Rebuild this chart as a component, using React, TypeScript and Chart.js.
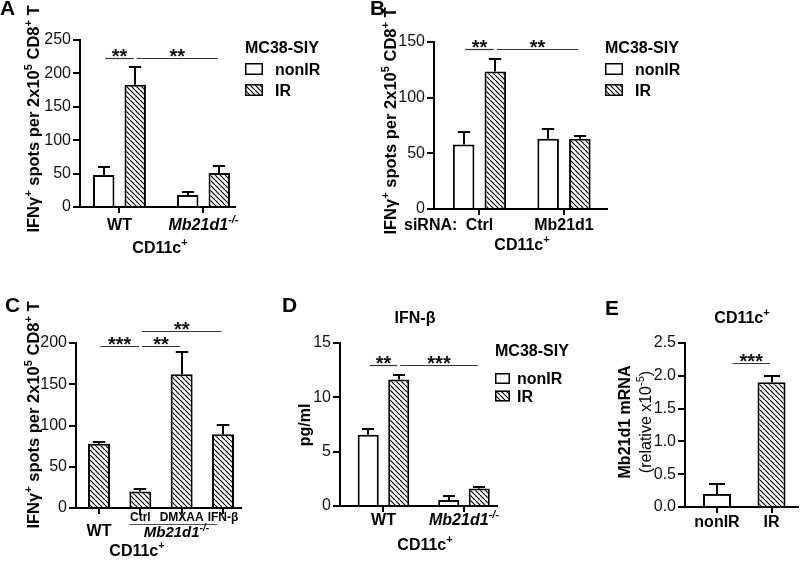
import React, { useEffect, useRef } from "react";
import { Chart, registerables } from "chart.js";

Chart.register(...registerables);

const FAMILY = '"Liberation Sans", Arial, Helvetica, sans-serif';

// ---------------- data ----------------
const seriesNames = ["nonIR", "IR"];
const legendTitle = "MC38-SIY";

const aCategories = ["WT", "Mb21d1^{-/-}"];
const aNonIR = [48, 18];
const aNonIRErr = [12, 4];
const aIR = [183, 51];
const aIRErr = [26, 10];
const aYMax = 250;
const aYStep = 50;

const bCategories = ["Ctrl", "Mb21d1"];
const bNonIR = [58, 63];
const bNonIRErr = [11, 8.5];
const bIR = [123.5, 63];
const bIRErr = [11.5, 2.5];
const bYMax = 150;
const bYStep = 50;

const cCategories = ["WT", "Ctrl", "DMXAA", "IFN-β"];
const cIR = [78, 20, 162, 89.5];
const cIRErr = [2, 3, 27.5, 11.5];
const cYMax = 200;
const cYStep = 50;

const dCategories = ["WT", "Mb21d1^{-/-}"];
const dNonIR = [6.55, 0.55];
const dNonIRErr = [0.55, 0.4];
const dIR = [11.65, 1.6];
const dIRErr = [0.4, 0.18];
const dYMax = 15;
const dYStep = 5;

const eCategories = ["nonIR", "IR"];
const eValues = [0.2, 1.9];
const eErr = [0.15, 0.1];
const eYMax = 2.5;
const eYStep = 0.5;

const yTitleSpots = "IFNγ^{+} spots per 2x10^{5} CD8^{+} T";
const xTitleCells = "CD11c^{+}";

// ---------------- helpers ----------------
type Seg = { t: string; sup: boolean; w?: number };
function parseRich(s: string): Seg[] {
  const segs: Seg[] = [];
  const re = /\^\{([^}]*)\}/g;
  let last = 0;
  let m: RegExpExecArray | null;
  while ((m = re.exec(s))) {
    if (m.index > last) segs.push({ t: s.slice(last, m.index), sup: false });
    segs.push({ t: m[1], sup: true });
    last = re.lastIndex;
  }
  if (last < s.length) segs.push({ t: s.slice(last), sup: false });
  return segs;
}

type TextOpt = {
  size: number;
  bold?: boolean;
  italic?: boolean;
  align?: "left" | "center" | "right";
  rotate?: boolean;
  color?: string;
};

function drawRich(ctx: CanvasRenderingContext2D, s: string, x: number, y: number, o: TextOpt) {
  const segs = parseRich(s);
  const fontFor = (sup: boolean) =>
    `${o.italic ? "italic " : ""}${o.bold ? "bold " : ""}${sup ? Math.round(o.size * 0.68) : o.size}px ${FAMILY}`;
  let w = 0;
  for (const seg of segs) {
    ctx.font = fontFor(seg.sup);
    seg.w = ctx.measureText(seg.t).width;
    w += seg.w;
  }
  ctx.save();
  ctx.translate(x, y);
  if (o.rotate) ctx.rotate(-Math.PI / 2);
  let cx = o.align === "center" ? -w / 2 : o.align === "right" ? -w : 0;
  ctx.textBaseline = "alphabetic";
  ctx.textAlign = "left";
  ctx.fillStyle = o.color || "#000";
  for (const seg of segs) {
    ctx.font = fontFor(seg.sup);
    ctx.fillText(seg.t, cx, seg.sup ? -o.size * 0.42 : 0);
    cx += seg.w || 0;
  }
  ctx.restore();
}

function makeHatch(): CanvasPattern | string {
  const s = 5;
  const c = document.createElement("canvas");
  c.width = s;
  c.height = s;
  const g = c.getContext("2d");
  if (!g) return "#888";
  g.fillStyle = "#fff";
  g.fillRect(0, 0, s, s);
  g.strokeStyle = "#000";
  g.lineWidth = 1.2;
  g.beginPath();
  for (const k of [-s, 0, s]) {
    g.moveTo(k, 0);
    g.lineTo(k + s, s);
  }
  g.stroke();
  return g.createPattern(c, "repeat") || "#888";
}

// ---------------- panel configs ----------------
type Series = { name: string; values: number[]; errors: number[]; fill: string[] };
type Sig = { a: [number, number]; b: [number, number]; aOff?: number; y: number; text: string };
type TextItem = { t: string; x: number; y: number } & TextOpt;
type PanelCfg = {
  key: string;
  box: [number, number, number, number];
  area: [number, number, number, number];
  categories: string[];
  xMin: number;
  xMax: number;
  yMax: number;
  yStep: number;
  yDecimals: number;
  catPct: number;
  barPct: number;
  series: Series[];
  sigs: Sig[];
  labels: { dy: number; size: number; italic: boolean }[];
  group?: { from: number; to: number; text: string; lineDy: number; textDy: number; size: number };
  texts: TextItem[];
  legend?: { x: number; y: number; boxTop: number; row: number; bw: number; bh: number; textDx: number };
};

const panels: PanelCfg[] = [
  {
    key: "A",
    box: [0, 0, 400, 290],
    area: [80, 40, 235, 207],
    categories: aCategories,
    xMin: -0.47,
    xMax: 1.375,
    yMax: aYMax,
    yStep: aYStep,
    yDecimals: 0,
    catPct: 0.75,
    barPct: 0.68,
    series: [
      { name: seriesNames[0], values: aNonIR, errors: aNonIRErr, fill: ["white", "white"] },
      { name: seriesNames[1], values: aIR, errors: aIRErr, fill: ["hatch", "hatch"] },
    ],
    sigs: [
      { a: [0, 0], b: [1, 0], y: 223, text: "**" },
      { a: [1, 0], b: [1, 1], y: 223, text: "**" },
    ],
    labels: [
      { dy: 23, size: 16, italic: false },
      { dy: 23, size: 16, italic: true },
    ],
    texts: [
      { t: "A", x: 0, y: 15, size: 21, bold: true },
      { t: yTitleSpots, x: 39, y: 119, size: 16.5, bold: true, align: "center", rotate: true },
      { t: xTitleCells, x: 160, y: 253, size: 16, bold: true, align: "center" },
    ],
    legend: { x: 245, y: 53, boxTop: 10, row: 21, bw: 18, bh: 12, textDx: 30 },
  },
  {
    key: "B",
    box: [350, 0, 450, 290],
    area: [434, 42, 607, 209],
    categories: bCategories,
    xMin: -0.538,
    xMax: 1.509,
    yMax: bYMax,
    yStep: bYStep,
    yDecimals: 0,
    catPct: 0.75,
    barPct: 0.68,
    series: [
      { name: seriesNames[0], values: bNonIR, errors: bNonIRErr, fill: ["white", "white"] },
      { name: seriesNames[1], values: bIR, errors: bIRErr, fill: ["hatch", "hatch"] },
    ],
    sigs: [
      { a: [0, 0], b: [1, 0], y: 143.7, text: "**" },
      { a: [1, 0], b: [1, 1], y: 143.7, text: "**" },
    ],
    labels: [
      { dy: 21, size: 16, italic: false },
      { dy: 21, size: 16, italic: false },
    ],
    texts: [
      { t: "B", x: 370, y: 15, size: 21, bold: true },
      { t: yTitleSpots, x: 396, y: 121, size: 16.5, bold: true, align: "center", rotate: true },
      { t: "siRNA:", x: 404, y: 230, size: 16, bold: true },
      { t: xTitleCells, x: 522, y: 250, size: 16, bold: true, align: "center" },
    ],
    legend: { x: 605, y: 53, boxTop: 10, row: 21, bw: 18, bh: 12, textDx: 30 },
  },
  {
    key: "C",
    box: [0, 290, 300, 277],
    area: [76, 343, 241, 508],
    categories: cCategories,
    xMin: -0.557,
    xMax: 3.436,
    yMax: cYMax,
    yStep: cYStep,
    yDecimals: 0,
    catPct: 0.8,
    barPct: 0.665,
    series: [{ name: seriesNames[1], values: cIR, errors: cIRErr, fill: ["hatch", "hatch", "hatch", "hatch"] }],
    sigs: [
      { a: [0, 0], b: [0, 1], y: 196, text: "***" },
      { a: [0, 1], b: [0, 2], y: 196, text: "**" },
      { a: [0, 1], b: [0, 3], y: 214.5, text: "**" },
    ],
    labels: [
      { dy: 28, size: 16, italic: false },
      { dy: 13, size: 12, italic: false },
      { dy: 13, size: 12, italic: false },
      { dy: 13, size: 12, italic: false },
    ],
    group: { from: 1, to: 3, text: "Mb21d1^{-/-}", lineDy: 16, textDy: 29, size: 15 },
    texts: [
      { t: "C", x: 5, y: 312, size: 21, bold: true },
      { t: yTitleSpots, x: 39, y: 415, size: 16.5, bold: true, align: "center", rotate: true },
      { t: xTitleCells, x: 137, y: 556, size: 16, bold: true, align: "center" },
    ],
  },
  {
    key: "D",
    box: [280, 290, 300, 277],
    area: [340, 343, 497, 506],
    categories: dCategories,
    xMin: -0.54,
    xMax: 1.41,
    yMax: dYMax,
    yStep: dYStep,
    yDecimals: 0,
    catPct: 0.758,
    barPct: 0.69,
    series: [
      { name: seriesNames[0], values: dNonIR, errors: dNonIRErr, fill: ["white", "white"] },
      { name: seriesNames[1], values: dIR, errors: dIRErr, fill: ["hatch", "hatch"] },
    ],
    sigs: [
      { a: [0, 0], b: [1, 0], y: 13, text: "**" },
      { a: [1, 0], b: [1, 1], y: 13, text: "***" },
    ],
    labels: [
      { dy: 19, size: 16, italic: false },
      { dy: 19, size: 16, italic: true },
    ],
    texts: [
      { t: "D", x: 282, y: 312, size: 21, bold: true },
      { t: "IFN-β", x: 415, y: 323, size: 16, bold: true, align: "center" },
      { t: "pg/ml", x: 310, y: 425, size: 16, bold: true, align: "center", rotate: true },
      { t: xTitleCells, x: 425, y: 550, size: 16, bold: true, align: "center" },
    ],
    legend: { x: 495, y: 356, boxTop: 17, row: 17.5, bw: 15, bh: 11, textDx: 22 },
  },
  {
    key: "E",
    box: [580, 290, 220, 277],
    area: [685, 343, 798, 507],
    categories: eCategories,
    xMin: -0.587,
    xMax: 1.486,
    yMax: eYMax,
    yStep: eYStep,
    yDecimals: 1,
    catPct: 0.8,
    barPct: 0.642,
    series: [{ name: "", values: eValues, errors: eErr, fill: ["white", "hatch"] }],
    sigs: [{ a: [0, 0], aOff: 0.5, b: [0, 1], y: 2.195, text: "***" }],
    labels: [
      { dy: 20, size: 16, italic: false },
      { dy: 20, size: 16, italic: false },
    ],
    texts: [
      { t: "E", x: 605, y: 315, size: 21, bold: true },
      { t: xTitleCells, x: 742, y: 323, size: 16, bold: true, align: "center" },
      { t: "Mb21d1 mRNA", x: 630, y: 422, size: 16, bold: true, align: "center", rotate: true },
      { t: "(relative x10^{-5})", x: 651, y: 422, size: 16, bold: false, align: "center", rotate: true },
    ],
  },
];

const Y_W = 60;
const X_H = 30;

function buildChart(canvas: HTMLCanvasElement, cfg: PanelCfg) {
  const hatch = makeHatch();
  const fillOf = (f: string) => (f === "hatch" ? hatch : "#ffffff");
  const [bx, by, bw, bh] = cfg.box;
  const [l, t, r, b] = cfg.area;

  const decor = {
    id: "decor" + cfg.key,
    afterDraw(chart: any) {
      const ctx: CanvasRenderingContext2D = chart.ctx;
      const xs = chart.scales.x;
      const ys = chart.scales.y;
      const ca = chart.chartArea;
      ctx.save();
      // error bars
      cfg.series.forEach((s, di) => {
        const meta = chart.getDatasetMeta(di);
        meta.data.forEach((bar: any, i: number) => {
          const top = ys.getPixelForValue(s.values[i] + s.errors[i]);
          const x = Math.round(bar.x);
          const half = bar.width * 0.285;
          ctx.strokeStyle = "#000";
          ctx.lineWidth = 2;
          ctx.beginPath();
          ctx.moveTo(x, bar.y);
          ctx.lineTo(x, Math.round(top));
          ctx.moveTo(x - half, Math.round(top));
          ctx.lineTo(x + half, Math.round(top));
          ctx.stroke();
        });
      });
      // significance lines
      cfg.sigs.forEach((sg) => {
        const ea = chart.getDatasetMeta(sg.a[0]).data[sg.a[1]];
        const eb = chart.getDatasetMeta(sg.b[0]).data[sg.b[1]];
        const x1 = ea.x + (sg.aOff || 0) * ea.width + 1.5;
        const x2 = eb.x - 1.5;
        const yy = Math.round(ys.getPixelForValue(sg.y)) + 0.5;
        ctx.strokeStyle = "#333";
        ctx.lineWidth = 1.2;
        ctx.beginPath();
        ctx.moveTo(x1, yy);
        ctx.lineTo(x2, yy);
        ctx.stroke();
        drawRich(ctx, sg.text, (x1 + x2) / 2, yy + 4, { size: 20, bold: true, align: "center", color: "#111" });
      });
      // category labels
      cfg.categories.forEach((lab, i) => {
        const st = cfg.labels[i];
        drawRich(ctx, lab, xs.getPixelForValue(i), ca.bottom + st.dy, {
          size: st.size,
          bold: true,
          italic: st.italic,
          align: "center",
        });
      });
      // group label
      if (cfg.group) {
        const g = cfg.group;
        const m0 = chart.getDatasetMeta(0).data[g.from];
        const x1 = xs.getPixelForValue(g.from) - m0.width / 2;
        const x2 = xs.getPixelForValue(g.to) - m0.width / 4;
        const yy = ca.bottom + g.lineDy + 0.5;
        ctx.strokeStyle = "#555";
        ctx.lineWidth = 1.2;
        ctx.beginPath();
        ctx.moveTo(x1, yy);
        ctx.lineTo(x2, yy);
        ctx.stroke();
        drawRich(ctx, g.text, (x1 + x2) / 2 + 3, ca.bottom + g.textDy, {
          size: g.size,
          bold: true,
          italic: true,
          align: "center",
        });
      }
      // free texts
      cfg.texts.forEach((tx) => {
        drawRich(ctx, tx.t, tx.x - bx, tx.y - by, tx);
      });
      // legend
      if (cfg.legend) {
        const L = cfg.legend;
        const lx = L.x - bx;
        drawRich(ctx, legendTitle, lx, L.y - by, { size: 16, bold: true });
        cfg.series.forEach((s, k) => {
          const top = L.y - by + L.boxTop + k * L.row;
          ctx.fillStyle = fillOf(s.fill[0]) as any;
          ctx.fillRect(lx, top, L.bw, L.bh);
          ctx.strokeStyle = "#000";
          ctx.lineWidth = 1.5;
          ctx.strokeRect(lx + 0.75, top + 0.75, L.bw - 1.5, L.bh - 1.5);
          drawRich(ctx, s.name, lx + L.textDx, top + L.bh, { size: 16, bold: true });
        });
      }
      ctx.restore();
    },
  };

  return new Chart(canvas, {
    type: "bar",
    data: {
      datasets: cfg.series.map((s) => ({
        label: s.name,
        data: s.values.map((v, i) => ({ x: i, y: v })),
        backgroundColor: s.fill.map(fillOf),
        borderColor: "#000",
        borderWidth: 2,
        borderSkipped: "start",
        categoryPercentage: cfg.catPct,
        barPercentage: cfg.barPct,
      })) as any,
    },
    options: {
      responsive: false,
      animation: false,
      events: [],
      layout: {
        padding: {
          left: l - bx - Y_W,
          top: t - by,
          right: bx + bw - r,
          bottom: by + bh - b - X_H,
        },
      },
      plugins: { legend: { display: false }, tooltip: { enabled: false } },
      scales: {
        x: {
          type: "linear",
          offset: false,
          min: cfg.xMin,
          max: cfg.xMax,
          afterBuildTicks: (s: any) => {
            s.ticks = cfg.categories.map((_, i) => ({ value: i }));
          },
          afterFit: (s: any) => {
            s.height = X_H;
          },
          ticks: { display: false },
          grid: { offset: false, drawOnChartArea: false, drawTicks: true, tickLength: 6, color: "#000", lineWidth: 2 },
          border: { display: true, color: "#000", width: 2 },
        },
        y: {
          min: 0,
          max: cfg.yMax,
          afterFit: (s: any) => {
            s.width = Y_W;
          },
          ticks: {
            stepSize: cfg.yStep,
            padding: 2,
            color: "#111",
            font: { family: FAMILY, size: 16 },
            callback: (v: any) => Number(v).toFixed(cfg.yDecimals),
          },
          grid: { drawOnChartArea: false, drawTicks: true, tickLength: 7, color: "#000", lineWidth: 2 },
          border: { display: true, color: "#000", width: 2 },
        },
      },
    } as any,
    plugins: [decor],
  });
}

function Panel({ cfg }: { cfg: PanelCfg }) {
  const ref = useRef<HTMLCanvasElement | null>(null);
  useEffect(() => {
    if (!ref.current) return;
    const chart = buildChart(ref.current, cfg);
    return () => chart.destroy();
  }, [cfg]);
  const [x, y, w, h] = cfg.box;
  return (
    <canvas
      ref={ref}
      width={w}
      height={h}
      style={{ position: "absolute", left: x, top: y, width: w, height: h }}
    />
  );
}

export default function App() {
  return (
    <div style={{ position: "absolute", left: 0, top: 0, width: 800, height: 567, background: "#fff", overflow: "hidden" }}>
      {panels.map((p) => (
        <Panel key={p.key} cfg={p} />
      ))}
    </div>
  );
}
